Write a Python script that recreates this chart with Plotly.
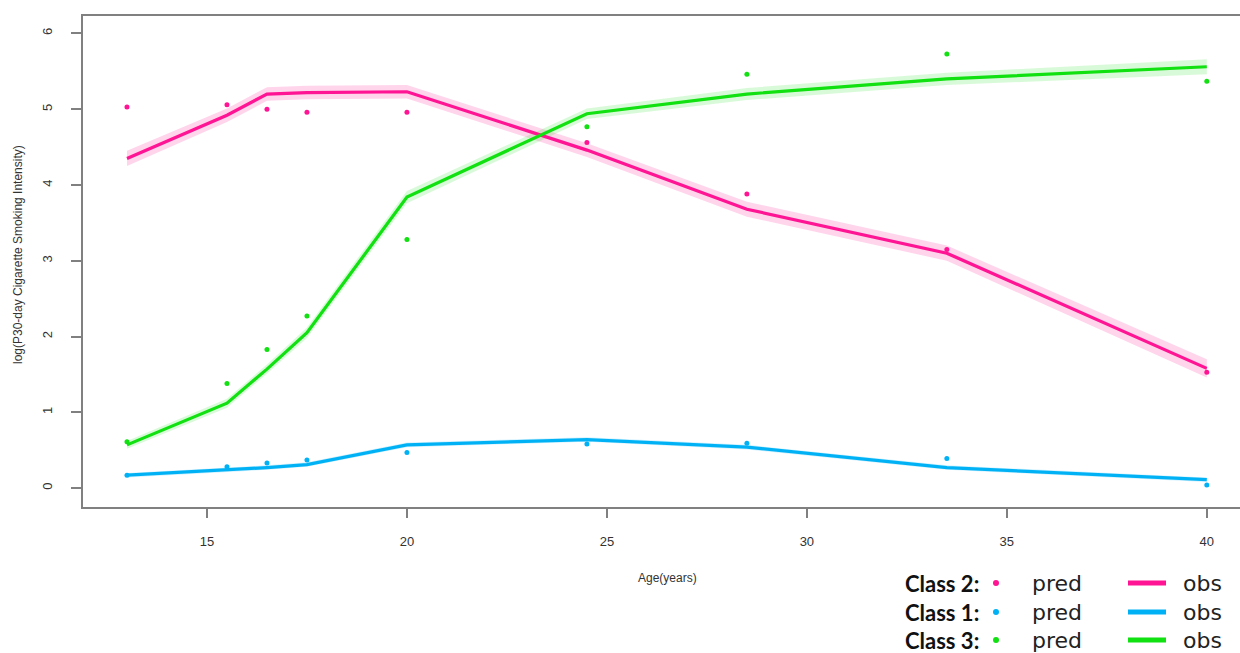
import plotly.graph_objects as go

ages = [13, 15.5, 16.5, 17.5, 20, 24.5, 28.5, 33.5, 40]

class2_pred = [5.03, 5.06, 5.00, 4.96, 4.96, 4.56, 3.88, 3.15, 1.53]
class2_obs = [4.35, 4.92, 5.20, 5.22, 5.23, 4.46, 3.68, 3.10, 1.58]
class2_ci = [0.10, 0.09, 0.09, 0.09, 0.09, 0.09, 0.10, 0.10, 0.12]

class1_pred = [0.17, 0.28, 0.33, 0.37, 0.47, 0.58, 0.59, 0.39, 0.04]
class1_obs = [0.17, 0.24, 0.27, 0.31, 0.57, 0.64, 0.54, 0.27, 0.11]
class1_ci = [0.03, 0.03, 0.03, 0.03, 0.03, 0.03, 0.03, 0.03, 0.03]

class3_pred = [0.61, 1.38, 1.83, 2.27, 3.28, 4.77, 5.46, 5.73, 5.37]
class3_obs = [0.57, 1.12, 1.57, 2.05, 3.84, 4.94, 5.20, 5.40, 5.56]
class3_ci = [0.05, 0.06, 0.06, 0.07, 0.08, 0.07, 0.08, 0.08, 0.10]

x_ticks = [15, 20, 25, 30, 35, 40]
y_ticks = [0, 1, 2, 3, 4, 5, 6]
x_title = "Age(years)"
y_title = "log(P30-day Cigarette Smoking Intensity)"
legend_labels = ["Class 2:", "Class 1:", "Class 3:"]

PINK = "#FF1493"
BLUE = "#00B2F5"
GREEN = "#11E011"
series = [
    (class2_pred, class2_obs, class2_ci, PINK, "rgba(255,20,147,0.18)"),
    (class1_pred, class1_obs, class1_ci, BLUE, "rgba(0,178,245,0.18)"),
    (class3_pred, class3_obs, class3_ci, GREEN, "rgba(17,224,17,0.16)"),
]

fig = go.Figure()
for pred, obs, ci, col, band in series:
    upper = [o + c for o, c in zip(obs, ci)]
    lower = [o - c for o, c in zip(obs, ci)]
    fig.add_trace(go.Scatter(x=ages + ages[::-1], y=upper + lower[::-1], fill="toself",
                             fillcolor=band, line=dict(width=0), mode="lines",
                             hoverinfo="skip", showlegend=False))
for pred, obs, ci, col, band in series:
    fig.add_trace(go.Scatter(x=ages, y=obs, mode="lines", line=dict(color=col, width=3.2),
                             showlegend=False))
    fig.add_trace(go.Scatter(x=ages, y=pred, mode="markers", marker=dict(color=col, size=5),
                             showlegend=False))

L, R, T, B = 83, 0, 16, 146
W, H = 1240, 653
pw, ph = W - L - R, H - T - B


def px(x):
    return (x - L) / pw


def py(y):
    return (H - B - y) / ph


fig.update_layout(
    width=W, height=H,
    margin=dict(l=L, r=R, t=T, b=B, pad=0, autoexpand=False),
    paper_bgcolor="white", plot_bgcolor="white",
    font=dict(family="Liberation Sans, Arial", color="#333333"),
    xaxis=dict(range=[11.9, 40.83], tickvals=x_ticks, ticks="outside", ticklen=9,
               tickcolor="#808080", tickwidth=1.5, showgrid=False, zeroline=False,
               showline=True, linecolor="#808080", linewidth=2, mirror=True,
               tickfont=dict(size=13, color="#333333"), ticklabelstandoff=12),
    yaxis=dict(range=[-0.25, 6.23], tickvals=y_ticks, ticks="outside", ticklen=10,
               tickcolor="#808080", tickwidth=1.5, showgrid=False, zeroline=False,
               showline=True, linecolor="#808080", linewidth=2, mirror=False,
               tickangle=-90, tickfont=dict(size=13, color="#333333"), ticklabelstandoff=14),
)

fig.add_annotation(x=px(667), y=py(578), xref="paper", yref="paper", text=x_title,
                   xanchor="center", yanchor="middle",
                   showarrow=False, font=dict(size=12, color="#333333"))
fig.add_annotation(x=px(18), y=py(255), xref="paper", yref="paper", text=y_title,
                   xanchor="center", yanchor="middle",
                   textangle=-90, showarrow=False, font=dict(size=12, color="#333333"))

row_y = [583, 612, 640]
for lab, ry, (pred, obs, ci, col, band) in zip(legend_labels, row_y, series):
    fig.add_annotation(x=px(903), y=py(ry), xref="paper", yref="paper", text="<b>" + lab + "</b>",
                       xanchor="left", yanchor="middle", showarrow=False,
                       font=dict(size=22, color="#111111", family="Liberation Sans Narrow, Lato"))
    fig.add_shape(type="circle", xref="paper", yref="paper",
                  x0=px(993), x1=px(999), y0=py(ry + 3), y1=py(ry - 3),
                  fillcolor=col, line=dict(width=0))
    fig.add_annotation(x=px(1057), y=py(ry), xref="paper", yref="paper", text="pred",
                       xanchor="center", yanchor="middle",
                       showarrow=False, font=dict(size=22, color="#222222", family="DejaVu Sans"))
    fig.add_shape(type="line", xref="paper", yref="paper",
                  x0=px(1128), x1=px(1166), y0=py(ry), y1=py(ry),
                  line=dict(color=col, width=5))
    fig.add_annotation(x=px(1202), y=py(ry), xref="paper", yref="paper", text="obs",
                       xanchor="center", yanchor="middle",
                       showarrow=False, font=dict(size=22, color="#222222", family="DejaVu Sans"))

fig.write_html("out.html", config={"displayModeBar": False},
               post_script="document.body.style.margin='0px';")
